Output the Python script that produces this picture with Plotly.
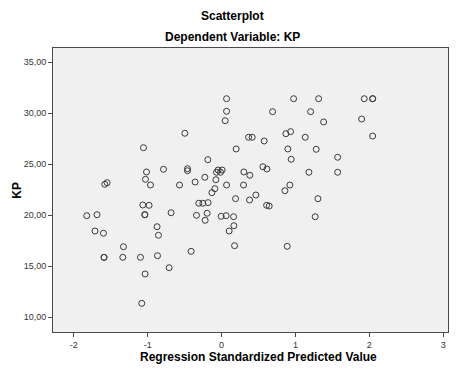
import plotly.graph_objects as go

# Regression standardized predicted value (x) vs KP (y)
pred = [
    -0.497, -1.057, -1.016, -0.786, -0.461, -0.461, -1.030, -0.962, -0.569, -1.581,
    -1.550, -1.066, -0.981, -1.825, -1.686, -1.039, -1.039, -0.683, -0.873, -1.713,
    -1.599, -0.854, -1.328, -1.591, -1.591, -1.337, -1.098, -0.867, -0.412, -0.710,
    -1.035, -1.080,
    0.068, 0.976, 1.314, 0.068, 0.691, 1.206, 0.049, 0.366, 0.415, 0.577,
    0.871, 0.935, 1.133, 0.198, 0.898, 1.282, -0.186, 0.943, -0.068, -0.046,
    0.008, -0.014, 0.302, 0.383, 0.560, 0.614, 1.183, -0.226, -0.077, -0.358,
    0.068, 0.298, 0.925, -0.091, -0.131, 0.858, 0.465, 0.190, 0.379, 1.305,
    -0.308, -0.253, -0.182, 0.610, 0.645, -0.339, -0.195, -0.222, -0.005, 0.062,
    0.163, 0.167, 0.103, 0.176, 0.889, 1.268,
    1.932, 2.046, 2.046, 1.382, 1.897, 2.046, 1.572, 1.572,
]
kp = [
    28.04, 26.63, 24.25, 24.51, 24.57, 24.37, 23.53, 22.97, 22.97, 23.04,
    23.20, 21.01, 20.98, 19.96, 20.06, 20.06, 20.06, 20.25, 18.88, 18.46,
    18.24, 18.04, 16.92, 15.88, 15.88, 15.88, 15.88, 16.04, 16.47, 14.86,
    14.25, 11.37,
    31.43, 31.43, 31.43, 30.20, 30.16, 30.16, 29.27, 27.65, 27.65, 27.28,
    28.00, 28.20, 27.65, 26.50, 26.50, 26.47, 25.45, 25.49, 24.22, 24.44,
    24.44, 24.22, 24.25, 23.92, 24.76, 24.54, 24.22, 23.73, 23.49, 23.26,
    22.97, 22.97, 22.97, 22.61, 22.22, 22.41, 21.99, 21.63, 21.50, 21.63,
    21.18, 21.18, 21.24, 20.98, 20.91, 20.00, 20.20, 19.51, 19.90, 19.96,
    19.86, 18.98, 18.46, 17.02, 16.96, 19.86,
    31.43, 31.43, 31.43, 29.15, 29.44, 27.77, 25.69, 24.22,
]

x_ticks = [-2, -1, 0, 1, 2, 3]
x_tick_labels = ["-2", "-1", "0", "1", "2", "3"]
y_ticks = [10, 15, 20, 25, 30, 35]
y_tick_labels = ["10,00", "15,00", "20,00", "25,00", "30,00", "35,00"]

FONT = "Liberation Sans, Arial, sans-serif"

fig = go.Figure()
fig.add_trace(go.Scatter(
    x=pred, y=kp, mode="markers",
    marker=dict(symbol="circle-open", size=6, color="#3a3a3a", line=dict(width=1, color="#3a3a3a")),
    showlegend=False, hoverinfo="x+y",
))

axis_common = dict(
    showgrid=False, zeroline=False, showline=True, linecolor="#4a4a4a", linewidth=1,
    mirror=True, ticks="outside", ticklen=4, tickcolor="#4a4a4a", tickwidth=1,
    tickfont=dict(family=FONT, size=9, color="#333333"),
)

def label(text, x, y, angle=0):
    return dict(text=text, xref="paper", yref="paper", x=x, y=y, xanchor="center",
                yanchor="middle", textangle=angle, showarrow=False,
                font=dict(family=FONT, size=12, color="black"))

fig.update_layout(
    width=458, height=369,
    margin=dict(l=53, r=10, t=48, b=37),
    paper_bgcolor="white", plot_bgcolor="#f0f0f0",
    font=dict(family=FONT, color="black"),
    xaxis=dict(range=[-2.282, 3.066], tickvals=x_ticks, ticktext=x_tick_labels, **axis_common),
    yaxis=dict(range=[8.56, 36.40], tickvals=y_ticks, ticktext=y_tick_labels, **axis_common),
    annotations=[
        label("<b>Scatterplot</b>", 0.455, 1.113),
        label("<b>Dependent Variable: KP</b>", 0.455, 1.040),
        label("<b>Regression Standardized Predicted Value</b>", 0.52, -0.088),
        label("<b>KP</b>", -0.092, 0.5, -90),
    ],
)

fig.write_html("out.html", config={"displayModeBar": False},
               post_script="document.body.style.margin='0';")
